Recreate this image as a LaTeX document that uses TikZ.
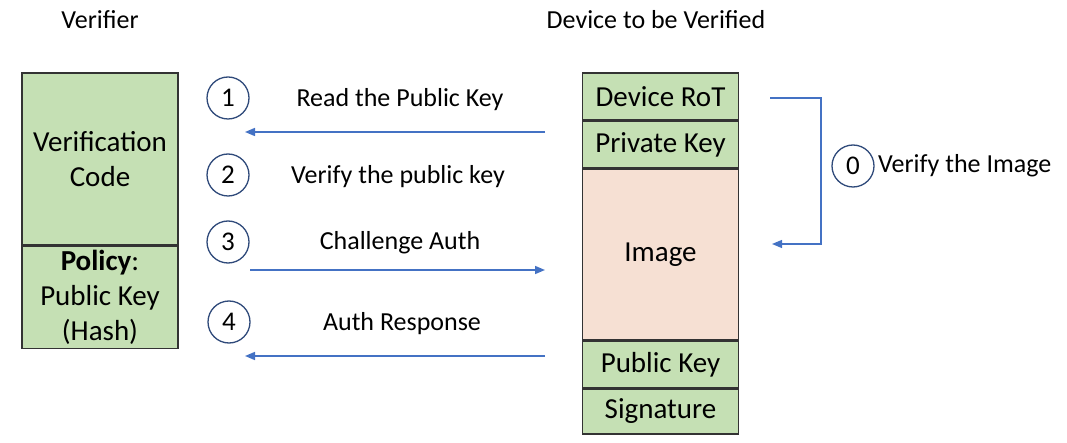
\documentclass[tikz,border=0pt]{standalone}
\usepackage{fontspec}
\setmainfont{Carlito}
\usetikzlibrary{positioning,arrows.meta,calc}
\definecolor{boxgreen}{HTML}{C5E0B4}
\definecolor{boxpeach}{HTML}{F6E0D3}
\definecolor{msgblue}{HTML}{4472C4}
\definecolor{ringblue}{HTML}{2F4A7A}
\definecolor{edgegray}{HTML}{333333}

\begin{document}
\begin{tikzpicture}[x=1pt,y=-1pt,
  seg/.style={draw=edgegray, line width=1.5pt, fill=boxgreen, minimum width=156pt,
    inner sep=0pt, align=center, font=\fontsize{29}{35}\selectfont},
  msg/.style={draw=msgblue, line width=1.5pt, -{Triangle[length=10pt,width=8pt]}},
  num/.style={circle, draw=ringblue, line width=1.3pt, minimum size=42pt,
    inner sep=0pt, font=\fontsize{27}{27}\selectfont},
  lbl/.style={font=\fontsize{26}{26}\selectfont}]
  \useasboundingbox (0,0) rectangle (1067,443);

  % headings
  \node[lbl] (vtitle) at (100,20) {Verifier};
  \node[lbl] (dtitle) at (656,20) {Device to be Verified};

  % verifier side
  \node[seg, minimum height=172pt] (code) at (100,159) {Verification\\Code};
  \node[seg, minimum height=102pt, below=0pt of code] (policy) {\textbf{Policy}:\\Public Key\\(Hash)};

  % device side
  \node[seg, minimum height=47pt] (rot) at (660.5,96.5) {Device RoT};
  \node[seg, minimum height=46pt, below=0pt of rot] (priv) {Private Key};
  \node[seg, minimum height=171pt, fill=boxpeach, below=0pt of priv] (image) {Image};
  \node[seg, minimum height=46pt, below=0pt of image] (pub) {Public Key};
  \node[seg, minimum height=45pt, below=0pt of pub] (sig) {Signature};

  % steps
  \node[num] (n1) at (228,98) {1};
  \node[num] (n2) at (228,175) {2};
  \node[num] (n3) at (228,242) {3};
  \node[num] (n4) at (229,322) {4};
  \node[num] (n0) at (853,166) {0};

  \node[lbl] (l1) at (400,100) {Read the Public Key};
  \node[lbl] (l2) at (398,177) {Verify the public key};
  \node[lbl] (l3) at (400,243) {Challenge Auth};
  \node[lbl] (l4) at (402,324) {Auth Response};
  \node[lbl, right=0pt of n0] (l0) {Verify the Image};

  % messages
  \coordinate (a1) at (545,132);
  \coordinate (b1) at (245,132);
  \coordinate (a3) at (250,270);
  \coordinate (b3) at (545,270);
  \coordinate (a4) at (545,356);
  \coordinate (b4) at (245,356);
  \draw[msg] (a1) -- (b1);
  \draw[msg] (a3) -- (b3);
  \draw[msg] (a4) -- (b4);

  % self check of the image
  \coordinate (s0) at (770,98);
  \coordinate (e0) at (772,244);
  \draw[msg, line width=1.2pt] (s0) -- ++(51,0) |- (e0);
\end{tikzpicture}
\end{document}
